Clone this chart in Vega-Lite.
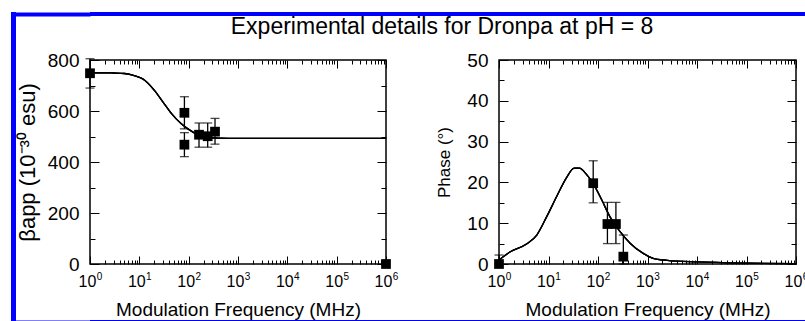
{
  "$schema": "https://vega.github.io/schema/vega-lite/v6.json",
  "padding": {"left": 11, "top": 12, "right": 0, "bottom": 0},
  "background": "white",
  "datasets": {
    "beta_curve": [
      {"f": 1, "v": 750}, {"f": 2, "v": 750}, {"f": 3, "v": 749}, {"f": 5, "v": 747},
      {"f": 7, "v": 742}, {"f": 10, "v": 732}, {"f": 13, "v": 720}, {"f": 20, "v": 682},
      {"f": 30, "v": 636}, {"f": 45, "v": 590}, {"f": 70, "v": 551}, {"f": 100, "v": 528},
      {"f": 150, "v": 508}, {"f": 220, "v": 498}, {"f": 400, "v": 494}, {"f": 1000, "v": 493},
      {"f": 1000000, "v": 493}
    ],
    "beta_pts": [
      {"f": 1, "v": 748, "lo": 690, "hi": 805},
      {"f": 82, "v": 593, "lo": 530, "hi": 656},
      {"f": 82, "v": 468, "lo": 421, "hi": 515},
      {"f": 162, "v": 507, "lo": 458, "hi": 553},
      {"f": 243, "v": 501, "lo": 458, "hi": 553},
      {"f": 342, "v": 519, "lo": 470, "hi": 571},
      {"f": 1000000, "v": 0, "lo": null, "hi": null}
    ],
    "phase_curve": [
      {"f": 1, "v": 1.0}, {"f": 1.7, "v": 3.0}, {"f": 3.6, "v": 4.9}, {"f": 5.8, "v": 7.1},
      {"f": 9.2, "v": 11.6}, {"f": 14.7, "v": 16.6}, {"f": 23, "v": 21.1}, {"f": 33, "v": 23.5},
      {"f": 42, "v": 23.5}, {"f": 59, "v": 21.9}, {"f": 80, "v": 19.7}, {"f": 118, "v": 15.8},
      {"f": 174, "v": 11.6}, {"f": 277, "v": 8.0}, {"f": 445, "v": 5.1}, {"f": 820, "v": 2.6},
      {"f": 1300, "v": 1.4}, {"f": 2500, "v": 0.9}, {"f": 10000, "v": 0.5}, {"f": 100000, "v": 0.2},
      {"f": 1000000, "v": 0.1}
    ],
    "phase_pts": [
      {"f": 1, "v": 0, "lo": 0, "hi": 2.2},
      {"f": 80, "v": 19.8, "lo": 15.0, "hi": 25.3},
      {"f": 155, "v": 9.8, "lo": 5.0, "hi": 15.1},
      {"f": 230, "v": 9.8, "lo": 5.0, "hi": 15.1},
      {"f": 325, "v": 1.8, "lo": 0, "hi": 7.1}
    ]
  },
  "spacing": -4,
  "hconcat": [
    {
      "width": 5, "height": 310,
      "view": {"fill": "#0000ff", "stroke": null},
      "data": {"values": []},
      "mark": "point"
    },
    {
      "spacing": 0,
      "vconcat": [
        {
          "width": 720, "height": 4,
          "view": {"fill": "#0000ff", "stroke": null},
          "data": {"values": []},
          "mark": "point",
          "encoding": {
            "y": {"field": "a", "type": "quantitative", "scale": {"domain": [0, 1]},
              "axis": {"values": [0.5], "tickSize": 75, "tickWidth": 4, "tickColor": "#0000ff", "tickRound": false, "labels": false, "domain": false, "title": null}}
          }
        },
        {
          "title": {"text": "Experimental details for Dronpa at pH = 8", "fontSize": 23, "font": "Liberation Sans", "fontWeight": "normal", "anchor": "middle", "offset": 11, "dx": 30, "color": "black"},
          "spacing": 36,
          "hconcat": [
            {
              "width": 296, "height": 204,
              "view": {"stroke": "black", "strokeWidth": 1.5},
              "resolve": {"axis": {"x": "independent", "y": "independent"}},
              "layer": [
                {
                  "data": {"name": "beta_curve"},
                  "mark": {"type": "line", "color": "black", "strokeWidth": 1.3, "interpolate": "monotone"},
                  "encoding": {
                    "x": {"field": "f", "type": "quantitative", "scale": {"type": "log", "domain": [1, 1000000]},
                      "axis": {"orient": "bottom", "values": [1,10,100,1000,10000,100000,1000000],
                        "labelExpr": "'10'", "labelOffset": -3,
                        "tickSize": -8, "labelPadding": 17, "labelFontSize": 16,
                        "title": "Modulation Frequency (MHz)", "titleFontSize": 19, "titlePadding": 11}},
                    "y": {"field": "v", "type": "quantitative", "scale": {"domain": [0, 800], "nice": false},
                      "axis": {"orient": "left", "values": [0,200,400,600,800],
                        "tickSize": -9, "labelPadding": 20, "labelFontSize": 19,
                        "title": "βapp (10⁻³⁰ esu)", "titleFontSize": 22, "titlePadding": 8}}
                  }
                },
                {
                  "data": {"name": "beta_curve"},
                  "mark": {"type": "line", "color": "black", "strokeWidth": 1.3, "interpolate": "monotone"},
                  "encoding": {
                    "x": {"field": "f", "type": "quantitative", "scale": {"type": "log", "domain": [1, 1000000]},
                      "axis": {"orient": "bottom", "labels": false, "title": null, "tickSize": -4,
                        "values": [2,3,4,5,6,7,8,9,20,30,40,50,60,70,80,90,200,300,400,500,600,700,800,900,2000,3000,4000,5000,6000,7000,8000,9000,20000,30000,40000,50000,60000,70000,80000,90000,200000,300000,400000,500000,600000,700000,800000,900000]}},
                    "y": {"field": "v", "type": "quantitative", "scale": {"domain": [0, 800], "nice": false},
                      "axis": {"orient": "left", "labels": false, "title": null, "tickSize": -5, "values": [100,300,500,700]}}
                  }
                },
                {
                  "data": {"name": "beta_curve"},
                  "mark": {"type": "line", "color": "black", "strokeWidth": 1.3, "interpolate": "monotone"},
                  "encoding": {
                    "x": {"field": "f", "type": "quantitative", "scale": {"type": "log", "domain": [1, 1000000]},
                      "axis": {"orient": "top", "labels": false, "title": null, "tickSize": -4,
                        "values": [2,3,4,5,6,7,8,9,20,30,40,50,60,70,80,90,200,300,400,500,600,700,800,900,2000,3000,4000,5000,6000,7000,8000,9000,20000,30000,40000,50000,60000,70000,80000,90000,200000,300000,400000,500000,600000,700000,800000,900000]}},
                    "y": {"field": "v", "type": "quantitative", "scale": {"domain": [0, 800], "nice": false},
                      "axis": {"orient": "right", "labels": false, "title": null, "tickSize": -5, "values": [100,300,500,700]}}
                  }
                },
                {
                  "data": {"name": "beta_pts"},
                  "mark": {"type": "errorbar", "ticks": true, "size": 9, "thickness": 1.3, "color": "black"},
                  "encoding": {
                    "x": {"field": "f", "type": "quantitative", "scale": {"type": "log", "domain": [1, 1000000]},
                      "axis": {"orient": "bottom", "values": [1,10,100,1000,10000,100000,1000000], "ticks": false, "title": null,
                        "labelExpr": "format(round(log(datum.value)/LN10), 'd')", "labelFontSize": 10, "labelOffset": 9, "labelPadding": 7}},
                    "y": {"field": "lo", "type": "quantitative", "scale": {"domain": [0, 800], "nice": false}, "axis": null},
                    "y2": {"field": "hi"}
                  }
                },
                {
                  "data": {"name": "beta_pts"},
                  "mark": {"type": "point", "shape": "square", "filled": true, "size": 95, "color": "black", "opacity": 1},
                  "encoding": {
                    "x": {"field": "f", "type": "quantitative", "scale": {"type": "log", "domain": [1, 1000000]},
                      "axis": {"orient": "top", "labels": false, "title": null, "tickSize": -8, "values": [1,10,100,1000,10000,100000,1000000]}},
                    "y": {"field": "v", "type": "quantitative", "scale": {"domain": [0, 800], "nice": false},
                      "axis": {"orient": "right", "labels": false, "title": null, "tickSize": -9, "values": [0,200,400,600,800]}}
                  }
                }
              ]
            },
            {
              "width": 297, "height": 204,
              "view": {"stroke": "black", "strokeWidth": 1.5},
              "resolve": {"axis": {"x": "independent", "y": "independent"}},
              "layer": [
                {
                  "data": {"name": "phase_curve"},
                  "mark": {"type": "line", "color": "black", "strokeWidth": 1.3, "interpolate": "monotone"},
                  "encoding": {
                    "x": {"field": "f", "type": "quantitative", "scale": {"type": "log", "domain": [1, 1000000]},
                      "axis": {"orient": "bottom", "values": [1,10,100,1000,10000,100000,1000000],
                        "labelExpr": "'10'", "labelOffset": -3,
                        "tickSize": -8, "labelPadding": 17, "labelFontSize": 16,
                        "title": "Modulation Frequency (MHz)", "titleFontSize": 19, "titlePadding": 11}},
                    "y": {"field": "v", "type": "quantitative", "scale": {"domain": [0, 50], "nice": false},
                      "axis": {"orient": "left", "values": [0,10,20,30,40,50],
                        "tickSize": -9, "labelPadding": 20, "labelFontSize": 19,
                        "title": "Phase (°)", "titleFontSize": 17, "titlePadding": 13}}
                  }
                },
                {
                  "data": {"name": "phase_curve"},
                  "mark": {"type": "line", "color": "black", "strokeWidth": 1.3, "interpolate": "monotone"},
                  "encoding": {
                    "x": {"field": "f", "type": "quantitative", "scale": {"type": "log", "domain": [1, 1000000]},
                      "axis": {"orient": "bottom", "labels": false, "title": null, "tickSize": -4,
                        "values": [2,3,4,5,6,7,8,9,20,30,40,50,60,70,80,90,200,300,400,500,600,700,800,900,2000,3000,4000,5000,6000,7000,8000,9000,20000,30000,40000,50000,60000,70000,80000,90000,200000,300000,400000,500000,600000,700000,800000,900000]}},
                    "y": {"field": "v", "type": "quantitative", "scale": {"domain": [0, 50], "nice": false},
                      "axis": {"orient": "left", "labels": false, "title": null, "tickSize": -5, "values": [5,15,25,35,45]}}
                  }
                },
                {
                  "data": {"name": "phase_curve"},
                  "mark": {"type": "line", "color": "black", "strokeWidth": 1.3, "interpolate": "monotone"},
                  "encoding": {
                    "x": {"field": "f", "type": "quantitative", "scale": {"type": "log", "domain": [1, 1000000]},
                      "axis": {"orient": "top", "labels": false, "title": null, "tickSize": -4,
                        "values": [2,3,4,5,6,7,8,9,20,30,40,50,60,70,80,90,200,300,400,500,600,700,800,900,2000,3000,4000,5000,6000,7000,8000,9000,20000,30000,40000,50000,60000,70000,80000,90000,200000,300000,400000,500000,600000,700000,800000,900000]}},
                    "y": {"field": "v", "type": "quantitative", "scale": {"domain": [0, 50], "nice": false},
                      "axis": {"orient": "right", "labels": false, "title": null, "tickSize": -5, "values": [5,15,25,35,45]}}
                  }
                },
                {
                  "data": {"name": "phase_pts"},
                  "mark": {"type": "errorbar", "ticks": true, "size": 9, "thickness": 1.3, "color": "black"},
                  "encoding": {
                    "x": {"field": "f", "type": "quantitative", "scale": {"type": "log", "domain": [1, 1000000]},
                      "axis": {"orient": "bottom", "values": [1,10,100,1000,10000,100000,1000000], "ticks": false, "title": null,
                        "labelExpr": "format(round(log(datum.value)/LN10), 'd')", "labelFontSize": 10, "labelOffset": 9, "labelPadding": 7}},
                    "y": {"field": "lo", "type": "quantitative", "scale": {"domain": [0, 50], "nice": false}, "axis": null},
                    "y2": {"field": "hi"}
                  }
                },
                {
                  "data": {"name": "phase_pts"},
                  "mark": {"type": "point", "shape": "square", "filled": true, "size": 95, "color": "black", "opacity": 1},
                  "encoding": {
                    "x": {"field": "f", "type": "quantitative", "scale": {"type": "log", "domain": [1, 1000000]},
                      "axis": {"orient": "top", "labels": false, "title": null, "tickSize": -8, "values": [1,10,100,1000,10000,100000,1000000]}},
                    "y": {"field": "v", "type": "quantitative", "scale": {"domain": [0, 50], "nice": false},
                      "axis": {"orient": "right", "labels": false, "title": null, "tickSize": -9, "values": [0,10,20,30,40,50]}}
                  }
                }
              ]
            }
          ]
        },
        {
          "width": 720, "height": 5,
          "view": {"fill": "#0000ff", "stroke": null},
          "data": {"values": []},
          "mark": "point",
          "encoding": {
            "y": {"field": "a", "type": "quantitative", "scale": {"domain": [0, 1]},
              "axis": {"values": [0.5], "tickSize": 75, "tickWidth": 5, "tickColor": "#0000ff", "tickRound": false, "labels": false, "domain": false, "title": null}}
          }
        }
      ]
    }
  ],
  "config": {
    "font": "Liberation Sans",
    "axis": {
      "domain": false, "grid": false, "tickColor": "black", "tickWidth": 1,
      "labelColor": "black", "labelFont": "Liberation Sans", "labelFontSize": 16,
      "labelFlush": false, "labelOverlap": false,
      "titleColor": "black", "titleFont": "Liberation Sans", "titleFontWeight": "normal"
    }
  }
}
